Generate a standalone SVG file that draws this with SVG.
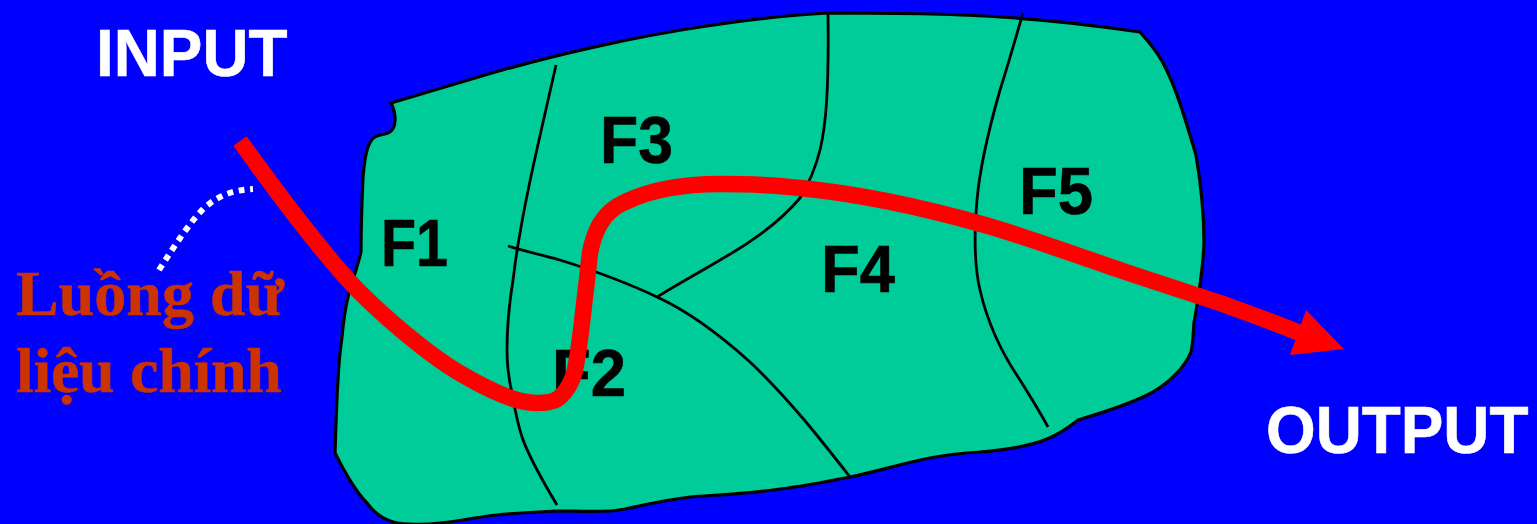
<svg xmlns="http://www.w3.org/2000/svg" width="1537" height="524" viewBox="0 0 1537 524">
<style>
.lbl{font-family:"Liberation Sans",Arial,sans-serif;font-weight:700;font-size:66px;stroke-width:.6px}
.w{fill:#fff;stroke:#fff}.k{fill:#000;stroke:#000}
.viet{font-family:"Liberation Serif","Times New Roman",serif;font-weight:700;font-size:64px;fill:#cc3300;stroke:#cc3300;stroke-width:.5px}
.ln{fill:none;stroke:#000;stroke-width:2.8px}
</style>
<rect width="1537" height="524" fill="#0000ff"/>
<g id="region">
<path d="M391 103L475 78C555 54 640 36 700 27C745 20 790 15 828 13C890 13 960 14 1000 17C1050 20 1100 26 1140 32C1148 41 1152 46 1157 53C1172 75 1182 108 1196 155C1202 190 1204 215 1204 243C1203 270 1198 300 1194 323C1193 335 1193 345 1191 352C1185 367 1170 382 1153 392C1135 402 1105 412 1078 420C1068 428 1060 434 1047 439C1030 446 1005 450 980 452C960 453 945 455 930 458C900 464 875 472 850 477C825 482 805 486 780 489C745 494 715 495 690 497C665 500 640 506 625 509C618 510 615 511 610 511C590 512 575 511 557 511C535 512 515 513 497 515C470 518 455 522 440 523C425 525 405 525 393 522C380 518 372 510 367 503C358 494 345 473 335 453C336 420 337 395 338 380C339 360 340 350 342 337C343 325 345 310 348 297C351 285 358 265 361 252C361 225 362 200 363 177C364 165 365 155 368 147C370 142 372 138 375 137C380 134 386 135 390 132C396 128 397 115 391 103Z" fill="#00cc99" stroke="#000" stroke-width="3.2"/>
</g>
<g id="input"><text class="lbl w" x="96" y="76" textLength="191.5" lengthAdjust="spacingAndGlyphs">INPUT</text></g>
<g id="output"><text class="lbl w" x="1266" y="453" textLength="262.5" lengthAdjust="spacingAndGlyphs">OUTPUT</text></g>
<g id="f1"><text class="lbl k" x="381" y="266" textLength="67" lengthAdjust="spacingAndGlyphs">F1</text></g>
<g id="f2"><text class="lbl k" x="552" y="396" textLength="74" lengthAdjust="spacingAndGlyphs">F2</text></g>
<g id="f3"><text class="lbl k" x="600" y="163" textLength="73" lengthAdjust="spacingAndGlyphs">F3</text></g>
<g id="f4"><text class="lbl k" x="821" y="292" textLength="74" lengthAdjust="spacingAndGlyphs">F4</text></g>
<g id="f5"><text class="lbl k" x="1019" y="214" textLength="74" lengthAdjust="spacingAndGlyphs">F5</text></g>
<g id="caption"><text class="viet" x="16" y="315">Luồng dữ</text><text class="viet" x="16" y="392" letter-spacing="-.3">liệu chính</text></g>
<g id="connectors">
<path class="ln" d="M556 65C546 110 540 135 533 167C527 195 523 215 520 233C516 255 515 265 513 280C509 305 507 330 507 350C507 365 509 380 512 393C515 410 517 422 522 437C530 460 545 485 557 505"/>
<path class="ln" d="M508 246C525 251 545 256 560 260C595 271 630 284 657 297C690 312 720 335 750 362C785 395 815 432 850 477"/>
<path class="ln" d="M657 297C678 284 700 272 720 260C750 243 780 222 800 198C808 185 815 170 820 150C826 125 829 90 828 13"/>
<path class="ln" d="M1023 13C1015 40 1008 65 1000 90C990 125 980 165 977 200C974 235 974 265 980 290C988 325 1003 355 1020 380C1030 396 1040 412 1048 427"/>
<path d="M240 141C275 190 315 243 349 281C362 295 378 310 393 323C415 342 440 362 463 375C482 386 500 395 517 400C525 402 530 403 537 403C548 403 556 401 560 397C568 390 572 382 575 370C579 350 580 338 582 323C584 305 585 295 587 280C588 270 589 262 590 253C594 232 602 212 625 202C650 190 685 184 720 184C750 184 775 185 800 188C860 194 925 208 985 225C1030 238 1075 255 1120 270C1155 282 1190 293 1220 303C1245 312 1275 323 1300 333" fill="none" stroke="#ff0000" stroke-width="16.5"/>
<path d="M1306 310L1344 349L1290 355Z" fill="#ff0000"/>
<path d="M159 270C175 245 190 222 204 208C218 196 232 190 253 189" fill="none" stroke="#fff" stroke-width="6" stroke-dasharray="6 5.6"/>
</g>
</svg>
